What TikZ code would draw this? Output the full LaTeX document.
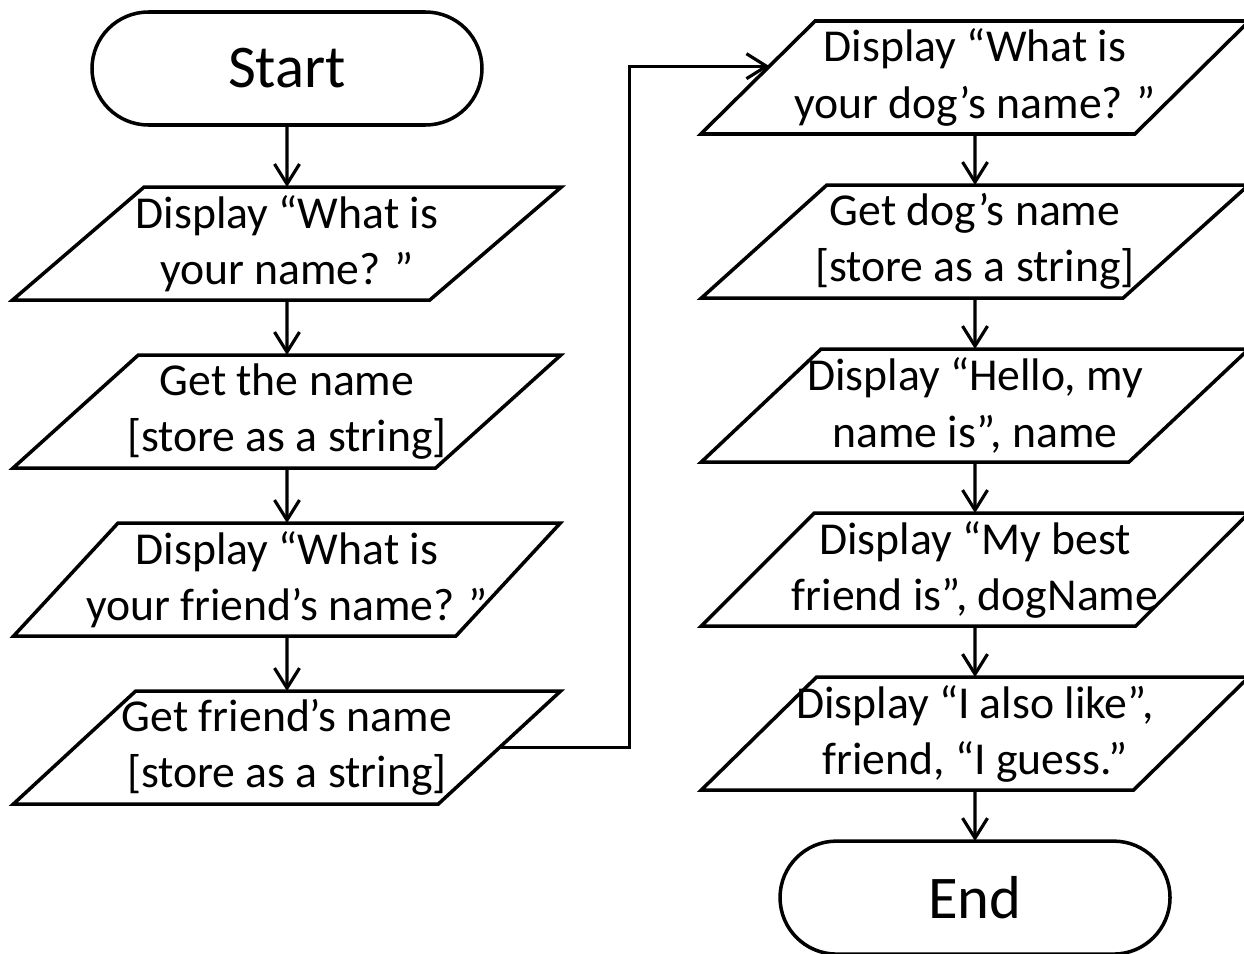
\documentclass[tikz,border=0pt]{standalone}
\usepackage{fontspec}
\setmainfont{Carlito}
\usepackage{tikz}
\usetikzlibrary{arrows.meta,positioning,shapes.geometric,calc}

\begin{document}
\begin{tikzpicture}[
  node distance=11mm,
  every node/.style={font=\fontsize{26}{32}\selectfont},
  term/.style={draw=black, line width=2pt, outer sep=0pt, rounded corners=11.3mm, minimum width=78mm, minimum height=22.6mm, align=center, font=\fontsize{34.5}{40}\selectfont},
  io/.style={trapezium, trapezium left angle=46, trapezium right angle=134, trapezium stretches=true, draw=black, line width=2pt, outer sep=0pt, minimum width=109.8mm, minimum height=22.6mm, inner xsep=-10mm, inner ysep=0pt, align=center},
  arr/.style={-{Straight Barb[length=4mm,width=5mm]}, line width=1.8pt}
]
\useasboundingbox (-5.74,1.37) rectangle (19.14,-17.71);

% left column
\node[term] (start) {Start};
\node[io, below=12.4mm of start] (lp1) {Display “What is\\your name? ”};
\node[io, below=of lp1] (lp2) {Get the name\\{}[store as a string]};
\node[io, below=of lp2] (lp3) {Display “What is\\your friend’s name? ”};
\node[io, below=of lp3] (lp4) {Get friend’s name\\{}[store as a string]};

% right column
\node[io] (rp1) at (13.76,-0.18) {Display “What is\\your dog’s name? ”};
\node[io, below=10.2mm of rp1] (rp2) {Get dog’s name\\{}[store as a string]};
\node[io, below=10.2mm of rp2] (rp3) {Display “Hello, my\\name is”, name};
\node[io, below=10.2mm of rp3] (rp4) {Display “My best\\friend is”, dogName};
\node[io, below=10.2mm of rp4] (rp5) {Display “I also like”,\\friend, “I guess.”};
\node[term, below=10.2mm of rp5] (end) {End};

\coordinate (entry) at ($(rp1.top left corner)!0.4!(rp1.bottom left corner)$);

\draw[arr] (start) -- (lp1);
\draw[arr] (lp1) -- (lp2);
\draw[arr] (lp2) -- (lp3);
\draw[arr] (lp3) -- (lp4);
\draw[arr] (lp4.east) -| ([xshift=-28mm]entry) -- (entry);
\draw[arr] (rp1) -- (rp2);
\draw[arr] (rp2) -- (rp3);
\draw[arr] (rp3) -- (rp4);
\draw[arr] (rp4) -- (rp5);
\draw[arr] (rp5) -- (end);
\end{tikzpicture}
\end{document}
